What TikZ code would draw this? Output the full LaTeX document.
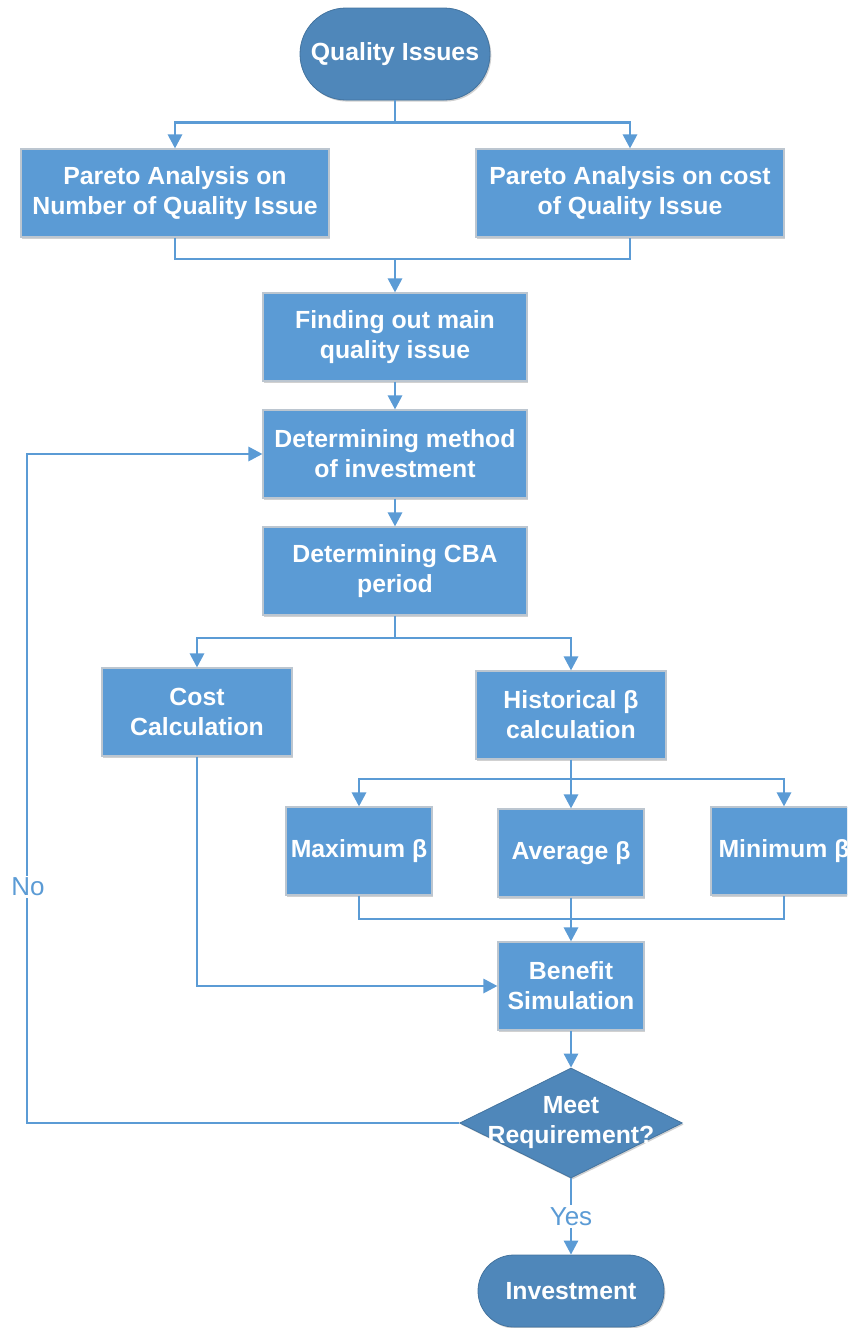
\documentclass[tikz,border=0pt]{standalone}
\usepackage{fontspec}
\setmainfont{Liberation Sans}
\usepackage{xcolor}
\usepackage{tikz}
\usetikzlibrary{calc,shapes.geometric,arrows.meta,shadows}

\definecolor{boxblue}{HTML}{5B9BD5}
\definecolor{termblue}{HTML}{4F87BA}
\definecolor{boxedge}{HTML}{BCC6D0}
\definecolor{linkblue}{HTML}{5B9BD5}

\begin{document}
\begin{tikzpicture}[x=0.75pt,y=-0.75pt,
    every node/.style={inner sep=0pt},
    softshadow/.style={drop shadow={shadow xshift=1pt,shadow yshift=-1.2pt,opacity=0.18,fill=black}},
    procbox/.style={rectangle,fill=boxblue,draw=boxedge,line width=0.8pt,softshadow,
        text=white,align=center,minimum height=66pt,
        font=\fontsize{18.6}{22.5}\selectfont\bfseries},
    termbox/.style={rectangle,fill=termblue,draw=termblue!85!black,line width=0.6pt,softshadow,
        text=white,align=center,
        font=\fontsize{18.6}{22.5}\selectfont\bfseries},
    decbox/.style={diamond,fill=termblue,draw=termblue!85!black,line width=0.6pt,softshadow,
        minimum width=167pt,minimum height=82.5pt},
    link/.style={draw=linkblue,line width=2.1pt},
    flow/.style={link,-{Triangle[length=10.5pt,width=10.5pt]}},
    lbl/.style={fill=white,text=linkblue,inner sep=1.5pt,
        font=\fontsize{19.5}{22}\selectfont}]
    \clip (0,0) rectangle (847,1328);
    \useasboundingbox (0,0) rectangle (847,1328);

    % boxes
    \node [termbox,minimum width=142.5pt,minimum height=69pt,rounded corners=34.5pt] (qi) at (395,54) {Quality Issues};
    \node [procbox,minimum width=231pt] (parnum) at (175,193) {Pareto Analysis on\\Number of Quality Issue};
    \node [procbox,minimum width=231pt] (parcost) at (630,193) {Pareto Analysis on cost\\of Quality Issue};
    \node [procbox,minimum width=198pt] (mainissue) at (395,337) {Finding out main\\quality issue};
    \node [procbox,minimum width=198pt] (method) at (395,454) {Determining method\\of investment};
    \node [procbox,minimum width=198pt] (cba) at (395,571) {Determining CBA\\period};
    \node [procbox,minimum width=142.5pt] (cost) at (197,712) {Cost\\Calculation};
    \node [procbox,minimum width=142.5pt] (hist) at (571,715) {Historical β\\calculation};
    \node [procbox,minimum width=109.5pt] (maxb) at (359,851) {Maximum β};
    \node [procbox,minimum width=109.5pt] (avgb) at (571,853) {Average β};
    \node [procbox,minimum width=109.5pt] (minb) at (784,851) {Minimum β};
    \node [procbox,minimum width=109.5pt] (benefit) at (571,986) {Benefit\\Simulation};
    \node [decbox,label={[text=white,align=center,font=\fontsize{18.6}{22.5}\selectfont\bfseries]center:Meet\\Requirement?}] (meet) at (571,1123) {};
    \node [termbox,minimum width=139.5pt,minimum height=54pt,rounded corners=27pt] (invest) at (571,1291) {Investment};

    % junctions
    \coordinate (j1) at (395,259);
    \coordinate (j2) at (395,638);
    \coordinate (j3) at (571,779);
    \coordinate (j4) at (571,919);
    \coordinate (noturn) at (27,1123);

    % connectors
    \draw [flow] (qi.south) -- ++(0,22) -| (parnum.north);
    \draw [flow] (qi.south) -- ++(0,22) -| (parcost.north);
    \draw [link] (parnum.south) |- (j1) -| (parcost.south);
    \draw [flow] (j1) -- (mainissue.north);
    \draw [flow] (mainissue) -- (method);
    \draw [flow] (method) -- (cba);
    \draw [link] (cba.south) -- (j2);
    \draw [flow] (j2) -| (cost.north);
    \draw [flow] (j2) -| (hist.north);
    \draw [link] (hist.south) -- (j3);
    \draw [flow] (j3) -| (maxb.north);
    \draw [flow] (j3) -- (avgb.north);
    \draw [flow] (j3) -| (minb.north);
    \draw [link] (maxb.south) |- (j4) -| (minb.south);
    \draw [link] (avgb.south) -- (j4);
    \draw [flow] (j4) -- (benefit.north);
    \draw [flow] (cost.south) |- (benefit.west);
    \draw [flow] (benefit) -- (meet);
    \draw [flow] (meet.west) -- (noturn) |- (method.west);
    \draw [flow] (meet.south) -- node [lbl] (yes) {Yes} (invest.north);
    \node [lbl] (no) at (28,887) {No};
\end{tikzpicture}
\end{document}
